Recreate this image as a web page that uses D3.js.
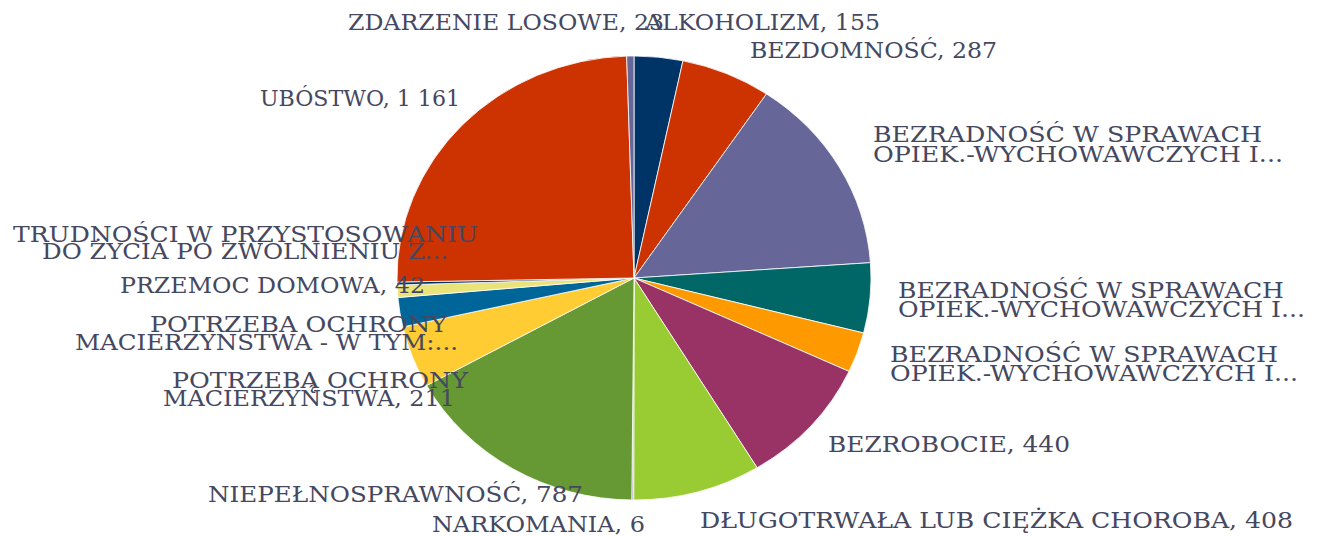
<!DOCTYPE html>
<html><head><meta charset="utf-8">
<script src="https://cdn.jsdelivr.net/npm/d3@7"></script>
<style>body{margin:0;background:#fff}svg{display:block}</style>
</head><body>
<svg id="chart" width="1321" height="537"></svg>
<script>
// ---- data ----
const categories = [
  "ALKOHOLIZM", "BEZDOMNOŚĆ",
  "BEZRADNOŚĆ W SPRAWACH OPIEK.-WYCHOWAWCZYCH I... (1)",
  "BEZRADNOŚĆ W SPRAWACH OPIEK.-WYCHOWAWCZYCH I... (2)",
  "BEZRADNOŚĆ W SPRAWACH OPIEK.-WYCHOWAWCZYCH I... (3)",
  "BEZROBOCIE", "DŁUGOTRWAŁA LUB CIĘŻKA CHOROBA", "NARKOMANIA",
  "NIEPEŁNOSPRAWNOŚĆ", "POTRZEBĄ OCHRONY MACIERZYŃSTWA",
  "POTRZEBA OCHRONY MACIERZYŃSTWA - W TYM:...", "PRZEMOC DOMOWA",
  "TRUDNOŚCI W PRZYSTOSOWANIU DO ŻYCIA PO ZWOLNIENIU Z...",
  "UBÓSTWO", "ZDARZENIE LOSOWE"
];
const values = [155, 287, 677, 238, 137, 440, 408, 6, 787, 211, 100, 42, 10, 1161, 23];
const sliceColors = ["#003366", "#CC3300", "#666699", "#006666", "#FF9900", "#993366",
  "#99CC33", "#A99BC9", "#669933", "#FFCC33", "#006699", "#E9E37A", "#003366", "#CC3300", "#666699"];
const labelLines = [
  ["ALKOHOLIZM, 155"],
  ["BEZDOMNOŚĆ, 287"],
  ["BEZRADNOŚĆ W SPRAWACH", "OPIEK.-WYCHOWAWCZYCH I..."],
  ["BEZRADNOŚĆ W SPRAWACH", "OPIEK.-WYCHOWAWCZYCH I..."],
  ["BEZRADNOŚĆ W SPRAWACH", "OPIEK.-WYCHOWAWCZYCH I..."],
  ["BEZROBOCIE, 440"],
  ["DŁUGOTRWAŁA LUB CIĘŻKA CHOROBA, 408"],
  ["NARKOMANIA, 6"],
  ["NIEPEŁNOSPRAWNOŚĆ, 787"],
  ["POTRZEBĄ OCHRONY", "MACIERZYŃSTWA, 211"],
  ["POTRZEBA OCHRONY", "MACIERZYŃSTWA - W TYM:..."],
  ["PRZEMOC DOMOWA, 42"],
  ["TRUDNOŚCI W PRZYSTOSOWANIU", "DO ŻYCIA PO ZWOLNIENIU Z..."],
  ["UBÓSTWO, 1 161"],
  ["ZDARZENIE LOSOWE, 23"]
];

// ---- layout (per label line: left x, baseline y, width) ----
const labelLayout = [
  [[645, 30, 235]],
  [[750, 58, 247]],
  [[873, 142, 389], [873, 162, 410]],
  [[898, 298, 386], [898, 317, 407]],
  [[890, 362, 388], [890, 381, 408]],
  [[828, 452, 242]],
  [[700, 528, 593]],
  [[432, 532, 213]],
  [[208, 502, 375]],
  [[172, 388, 296], [163, 406, 292]],
  [[150, 332, 297], [75, 350, 383]],
  [[120, 293, 305]],
  [[13, 242, 465], [42, 259, 406]],
  [[260, 106, 200]],
  [[348, 30, 316]]
];

const svg = d3.select("#chart");
const cx = 634, cy = 278, rx = 237, ry = 222;

const pie = d3.pie().sort(null).value(d => d).startAngle(0).endAngle(2 * Math.PI);
const arcs = pie(values);
const arc = d3.arc().innerRadius(0).outerRadius(ry);

const g = svg.append("g").attr("transform", `translate(${cx},${cy}) scale(${rx / ry},1)`);
g.selectAll("path").data(arcs).join("path")
  .attr("d", arc)
  .attr("fill", (d, i) => sliceColors[i])
  .attr("stroke", "#ffffff")
  .attr("stroke-width", 0.8)
  .attr("vector-effect", "non-scaling-stroke");

const lg = svg.append("g")
  .attr("font-family", "'DejaVu Serif', 'Liberation Serif', serif")
  .attr("font-size", 22)
  .attr("fill", "#45485f");

labelLines.forEach((lines, i) => {
  lines.forEach((t, j) => {
    const [x, y, w] = labelLayout[i][j];
    lg.append("text")
      .attr("x", x)
      .attr("y", y)
      .attr("text-anchor", "start")
      .attr("textLength", w)
      .attr("lengthAdjust", "spacingAndGlyphs")
      .text(t);
  });
});
</script>
</body></html>
